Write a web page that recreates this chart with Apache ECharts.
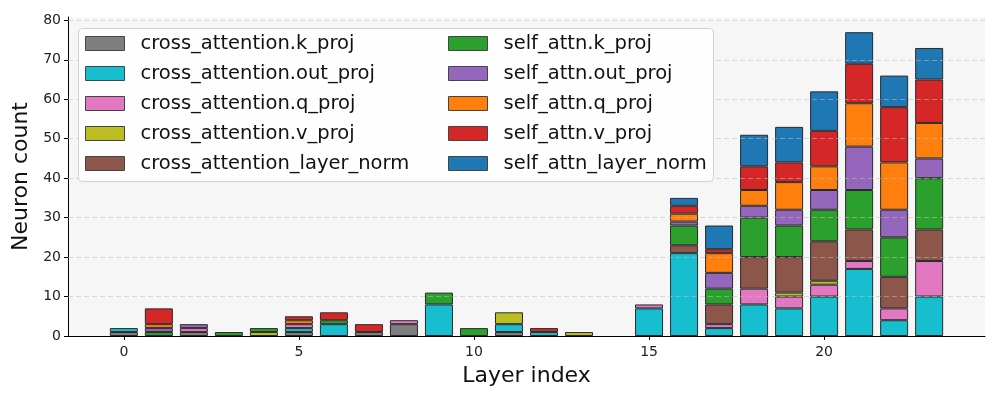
<!DOCTYPE html>
<html><head><meta charset="utf-8">
<script src="https://cdn.jsdelivr.net/npm/echarts@6/dist/echarts.min.js"></script>
<style>html,body{margin:0;padding:0;background:#fff}#c{width:1000px;height:400px}</style>
</head><body><div id="c"></div>
<script>
const layers = [0,1,2,3,4,5,6,7,8,9,10,11,12,13,14,15,16,17,18,19,20,21,22,23];
const seriesNames = ["cross_attention.k_proj","cross_attention.out_proj","cross_attention.q_proj","cross_attention.v_proj","cross_attention_layer_norm","self_attn.k_proj","self_attn.out_proj","self_attn.q_proj","self_attn.v_proj","self_attn_layer_norm"];
const seriesColors = ["#7f7f7f","#17becf","#e377c2","#bcbd22","#8c564b","#2ca02c","#9467bd","#ff7f0e","#d62728","#1f77b4"];
//                      0 1 2 3 4 5 6 7 8 9 10 11 12 13 14 15 16 17 18 19 20 21 22 23
const crossK     = [1,0,1,0,0,1,0,1,3,0, 0, 1, 0, 0, 0, 0, 0, 0, 0, 0, 0, 0, 0, 0];
const crossOut   = [1,0,0,0,0,1,3,0,0,8, 0, 2, 1, 0, 0, 7,21, 2, 8, 7,10,17, 4,10];
const crossQ     = [0,0,1,0,0,1,0,0,1,0, 0, 0, 0, 0, 0, 1, 0, 1, 4, 3, 3, 2, 3, 9];
const crossV     = [0,0,0,0,1,0,0,0,0,0, 0, 3, 0, 1, 0, 0, 0, 0, 0, 1, 1, 0, 0, 0];
const crossLN    = [0,0,0,0,0,0,0,0,0,0, 0, 0, 0, 0, 0, 0, 2, 5, 8, 9,10, 8, 8, 8];
const selfK      = [0,1,0,1,1,0,1,0,0,3, 2, 0, 0, 0, 0, 0, 5, 4,10, 8, 8,10,10,13];
const selfOut    = [0,1,1,0,0,0,0,0,0,0, 0, 0, 0, 0, 0, 0, 1, 4, 3, 4, 5,11, 7, 5];
const selfQ      = [0,1,0,0,0,1,0,0,0,0, 0, 0, 0, 0, 0, 0, 2, 5, 4, 7, 6,11,12, 9];
const selfV      = [0,4,0,0,0,1,2,2,0,0, 0, 0, 1, 0, 0, 0, 2, 1, 6, 5, 9,10,14,11];
const selfLN     = [0,0,0,0,0,0,0,0,0,0, 0, 0, 0, 0, 0, 0, 2, 6, 8, 9,10, 8, 8, 8];
const xTicks = [0,5,10,15,20];
const yTicks = [0,10,20,30,40,50,60,70,80];
const allValues = [crossK,crossOut,crossQ,crossV,crossLN,selfK,selfOut,selfQ,selfV,selfLN];

const FONT = "DejaVu Sans";
// value first, layer second: so ECharts stacks the count dimension
const series = allValues.map((vals, i) => ({
  name: seriesNames[i],
  type: 'bar',
  stack: 'total',
  barWidth: 28,
  encode: { x: 1, y: 0 },
  itemStyle: { color: seriesColors[i], borderColor: '#2a2a2a', borderWidth: 1 },
  emphasis: { disabled: true },
  data: layers.map((l, j) => vals[j] === 0
    ? { value: [0, l], itemStyle: { borderWidth: 0, opacity: 0 } }
    : { value: [vals[j], l] })
}));
series.push({
  name: '__grid', type: 'line', data: [], silent: true, z: 10,
  markLine: {
    silent: true, symbol: 'none', label: { show: false },
    lineStyle: { type: [5, 3], color: 'rgba(190,190,190,0.55)', width: 1 },
    emphasis: { disabled: true },
    data: yTicks.filter(v => v > 0).map(v => ({ yAxis: v }))
  }
});

const legendCommon = {
  orient: 'vertical', top: 33, padding: 0, itemWidth: 39, itemHeight: 14, itemGap: 9,
  icon: 'rect', z: 20, selectedMode: false,
  textStyle: { fontFamily: FONT, fontSize: 19.5, color: '#111', padding: [0,0,0,11], lineHeight: 21 },
  itemStyle: { borderColor: '#444', borderWidth: 1 }
};

const chart = echarts.init(document.getElementById('c'), null, { renderer: 'canvas' });
chart.setOption({
  animation: false,
  backgroundColor: '#ffffff',
  grid: { left: 68, right: 15, top: 17, bottom: 64, show: true, backgroundColor: '#f6f6f6', borderWidth: 0 },
  graphic: [{
    type: 'rect', left: 78, top: 28, z: 15,
    shape: { width: 635, height: 153, r: 4 },
    style: { fill: 'rgba(255,255,255,0.82)', stroke: '#d0d0d0', lineWidth: 1 }
  }],
  legend: [
    Object.assign({}, legendCommon, { left: 85, data: seriesNames.slice(0,5) }),
    Object.assign({}, legendCommon, { left: 448, data: seriesNames.slice(5) })
  ],
  xAxis: {
    type: 'value', min: -1.595, max: 24.595,
    name: 'Layer index', nameLocation: 'middle', nameGap: 29,
    nameTextStyle: { fontFamily: FONT, fontSize: 22, color: '#111' },
    axisLine: { show: true, onZero: false, lineStyle: { color: '#000', width: 1 } },
    axisTick: { show: true, length: 4, customValues: xTicks, lineStyle: { color: '#000' } },
    axisLabel: { customValues: xTicks, fontFamily: FONT, fontSize: 14, color: '#222', margin: 9 },
    splitLine: { show: false }
  },
  yAxis: {
    type: 'value', min: 0, max: 80.85,
    name: 'Neuron count', nameLocation: 'middle', nameGap: 30,
    nameTextStyle: { fontFamily: FONT, fontSize: 22, color: '#111' },
    axisLine: { show: true, onZero: false, lineStyle: { color: '#000', width: 1 } },
    axisTick: { show: true, length: 4, customValues: yTicks, lineStyle: { color: '#000' } },
    axisLabel: { customValues: yTicks, fontFamily: FONT, fontSize: 14, color: '#222', margin: 7 },
    splitLine: { show: false }
  },
  series: series
});
</script></body></html>
